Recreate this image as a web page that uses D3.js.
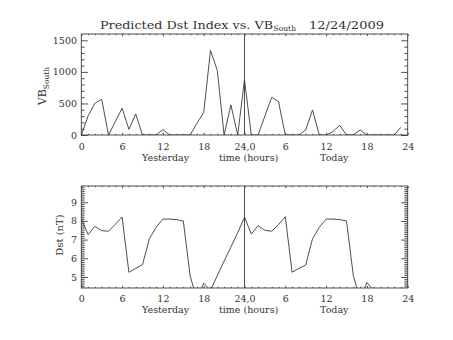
<!DOCTYPE html>
<html><head><meta charset="utf-8">
<script src="https://cdn.jsdelivr.net/npm/d3@7"></script>
<style>body{margin:0;background:#fff}svg{display:block}</style>
</head><body>
<script>
// ---- data ----
const hours = d3.range(48);
const vbSouth = [0,302,503,566,0,212,423,90,333,0,
                 0,0,85,0,0,0,0,185,355,1339,
                 1021,0,476,0,873,0,0,300,598,529,
                 0,0,0,80,397,0,0,53,153,0,
                 0,80,0,0,0,0,0,122];
const dstHours = d3.range(44);
const dst = [8.14,7.27,7.71,7.48,7.45,7.82,8.21,5.25,5.46,5.66,
             7.04,7.66,8.10,8.10,8.07,8.00,5.07,3.80,4.68,4.28,
             5.08,5.85,6.60,7.37,
             8.20,7.30,7.75,7.50,7.45,7.80,8.23,5.25,5.46,5.64,
             7.04,7.66,8.10,8.10,8.07,8.00,5.07,3.80,4.70,4.28];
const xTicks = [0,6,12,18,24,30,36,42,48];
const xTickLabels = ["0","6","12","18","24,0","6","12","18","24"];
const vbTicks = [0,500,1000,1500];
const dstTicks = [5,6,7,8,9];
const xWords = ["Yesterday","time (hours)","Today"];
const xWordHours = [12.4,24.6,37.2];
const titleMain = "Predicted Dst Index vs. VB";
const titleSub = "South";
const titleDate = "12/24/2009";

// ---- layout ----
const W = 453, H = 340;
const FONT = "DejaVu Serif";
const INK = "#333";
const LINE = "#3a3a3a";
const svg = d3.select("body").append("svg").attr("width", W).attr("height", H);

const x = d3.scaleLinear().domain([0,48]).range([81.3,407.7]);
const yTop = d3.scaleLinear().domain([0,1600]).range([135,34]);
const yBot = d3.scaleLinear().domain([4.41,9.87]).range([288,186]);

function panel(y, ticks, minorStep, id, padBottom) {
  const [y0, y1] = y.range();
  const g = svg.append("g");
  const defs = svg.append("defs");
  defs.append("clipPath").attr("id", id).append("rect")
    .attr("x", x(0)).attr("y", y1).attr("width", x(48)-x(0)).attr("height", y0-y1);
  // frame
  g.append("rect").attr("x", x(0)).attr("y", y1).attr("width", x(48)-x(0)).attr("height", y0-y1)
    .attr("fill","none").attr("stroke", LINE).attr("stroke-width", 0.9);
  const minorX = d3.range(0,49,1).filter(h => h % 6 !== 0);
  const dom = y.domain();
  const minorY = d3.range(Math.ceil(dom[0]/minorStep)*minorStep, dom[1], minorStep)
      .filter(v => !ticks.some(t => Math.abs(t - v) < 1e-6));
  const style = sel => {
    sel.select(".domain").remove();
    sel.selectAll("line").attr("stroke",LINE).attr("stroke-width",0.9);
    sel.selectAll("text").attr("font-family", FONT).attr("font-size", 9.5).attr("fill", INK);
  };
  g.append("g").attr("transform", `translate(0,${y0})`)
    .call(d3.axisBottom(x).tickValues(xTicks).tickSize(-2.2).tickPadding(padBottom)
      .tickFormat((d,i) => xTickLabels[i])).call(style);
  g.append("g").attr("transform", `translate(0,${y0})`)
    .call(d3.axisBottom(x).tickValues(minorX).tickSize(-1.2).tickFormat("")).call(style);
  g.append("g").attr("transform", `translate(0,${y1})`)
    .call(d3.axisTop(x).tickValues(xTicks).tickSize(-2.2).tickFormat("")).call(style);
  g.append("g").attr("transform", `translate(0,${y1})`)
    .call(d3.axisTop(x).tickValues(minorX).tickSize(-1.2).tickFormat("")).call(style);
  g.append("g").attr("transform", `translate(${x(0)},0)`)
    .call(d3.axisLeft(y).tickValues(ticks).tickSize(-6.5).tickPadding(4.3)
      .tickFormat(d3.format("d"))).call(style);
  g.append("g").attr("transform", `translate(${x(0)},0)`)
    .call(d3.axisLeft(y).tickValues(minorY).tickSize(-3.3).tickFormat("")).call(style);
  g.append("g").attr("transform", `translate(${x(48)},0)`)
    .call(d3.axisRight(y).tickValues(ticks).tickSize(-6.5).tickFormat("")).call(style);
  g.append("g").attr("transform", `translate(${x(48)},0)`)
    .call(d3.axisRight(y).tickValues(minorY).tickSize(-3.3).tickFormat("")).call(style);
  g.append("line").attr("x1", x(24)).attr("x2", x(24)).attr("y1", y0).attr("y2", y1)
    .attr("stroke",LINE).attr("stroke-width",0.9);
  return g;
}

const gT = panel(yTop, vbTicks, 100, "clipTop", 8.6);
gT.append("path").datum(hours)
  .attr("clip-path","url(#clipTop)")
  .attr("fill","none").attr("stroke",LINE).attr("stroke-width",0.9)
  .attr("d", d3.line().x(h => x(h)).y((h,i) => yTop(vbSouth[i])));

const gB = panel(yBot, dstTicks, 0.1, "clipBot", 7.6);
gB.append("path").datum(dstHours)
  .attr("clip-path","url(#clipBot)")
  .attr("fill","none").attr("stroke",LINE).attr("stroke-width",0.9)
  .attr("d", d3.line().x(h => x(h)).y((h,i) => yBot(dst[i])));

[161, 313].forEach(yy => {
  xWords.forEach((w,i) => {
    svg.append("text").attr("x", x(xWordHours[i])).attr("y", yy)
      .attr("text-anchor","middle").attr("font-family",FONT).attr("font-size",9.5)
      .attr("fill",INK).text(w);
  });
});

svg.append("text").attr("x",100).attr("y",28.5).attr("font-family",FONT).attr("font-size",11.5)
  .attr("fill",INK).attr("textLength",173).attr("lengthAdjust","spacingAndGlyphs").text(titleMain);
svg.append("text").attr("x",273.5).attr("y",31).attr("font-family",FONT).attr("font-size",7.5)
  .attr("fill",INK).attr("textLength",22.5).attr("lengthAdjust","spacingAndGlyphs").text(titleSub);
svg.append("text").attr("x",309).attr("y",28.5).attr("font-family",FONT).attr("font-size",11.5)
  .attr("fill",INK).attr("textLength",75).attr("lengthAdjust","spacingAndGlyphs").text(titleDate);

const yl = svg.append("text").attr("transform","translate(46,86) rotate(-90)")
  .attr("text-anchor","middle").attr("font-family",FONT).attr("font-size",11).attr("fill",INK);
yl.append("tspan").text("VB");
yl.append("tspan").attr("font-size",7.5).attr("dy",2.5).text("South");

svg.append("text").attr("transform","translate(63,235) rotate(-90)")
  .attr("text-anchor","middle").attr("font-family",FONT).attr("font-size",10).attr("fill",INK)
  .text("Dst (nT)");
</script>
</body></html>
